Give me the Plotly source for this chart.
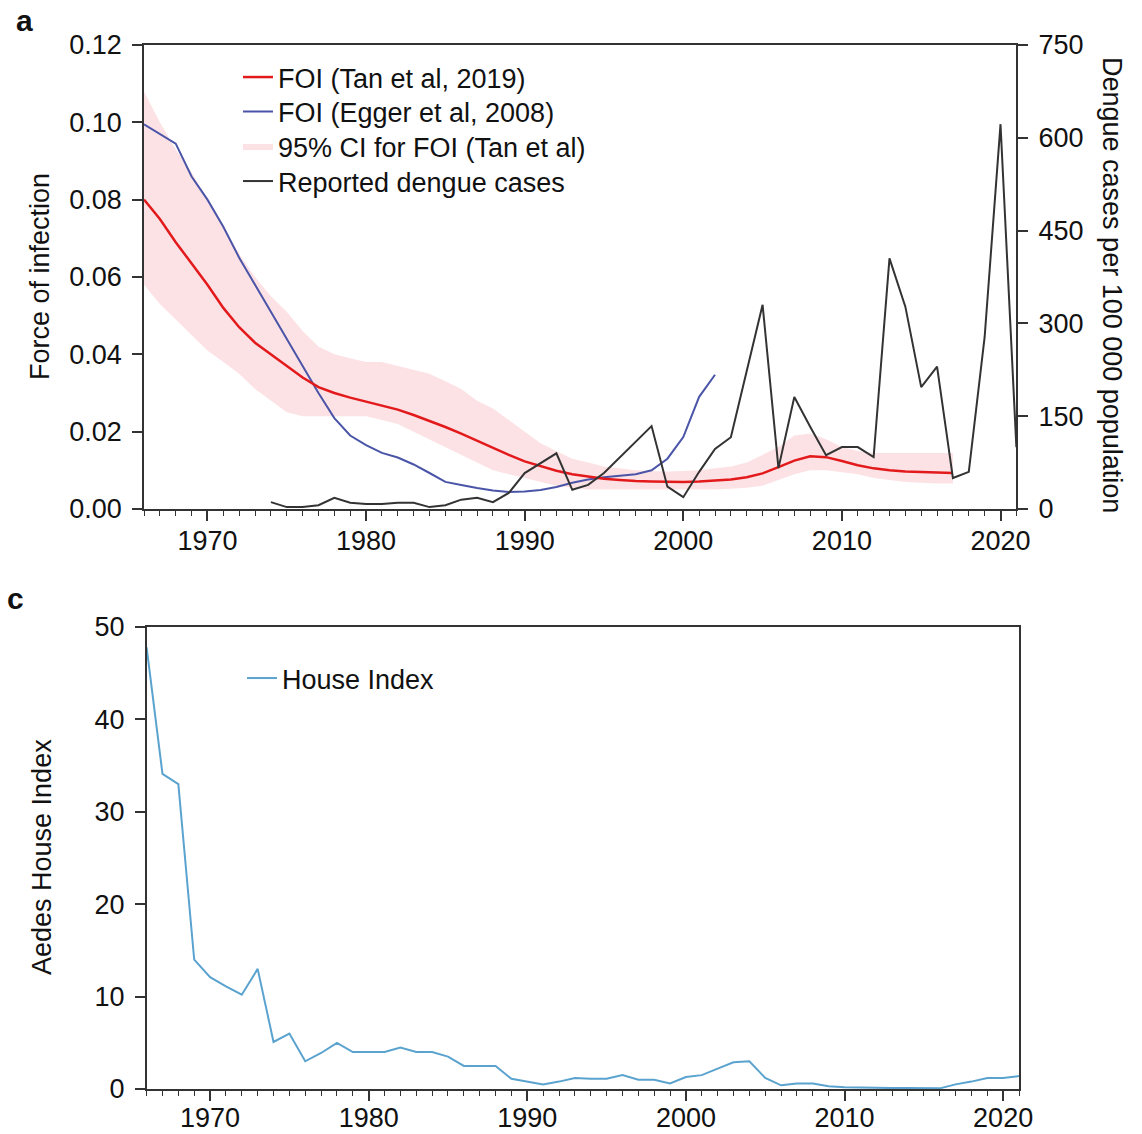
import plotly.graph_objects as go

# ---------------- data ----------------
tan_years = list(range(1966, 2018))
tan_foi = [0.080, 0.075, 0.069, 0.0635, 0.058, 0.052, 0.047, 0.043, 0.040, 0.037,
           0.034, 0.0315, 0.030, 0.0288, 0.0278, 0.0268, 0.0257, 0.0243, 0.0228, 0.0212,
           0.0195, 0.0176, 0.0158, 0.0140, 0.0123, 0.0110, 0.0099, 0.0090, 0.0083, 0.0078,
           0.0075, 0.0072, 0.0071, 0.0070, 0.0070, 0.0071, 0.0073, 0.0076, 0.0082, 0.0092,
           0.0108, 0.0125, 0.0136, 0.0134, 0.0124, 0.0113, 0.0105, 0.0100, 0.0097, 0.0095,
           0.0094, 0.0093]
tan_ci_low = [0.058, 0.053, 0.049, 0.045, 0.041, 0.038, 0.035, 0.031, 0.028, 0.025,
              0.024, 0.024, 0.024, 0.024, 0.024, 0.023, 0.022, 0.020, 0.018, 0.016,
              0.014, 0.012, 0.010, 0.009, 0.008, 0.007, 0.006, 0.0055, 0.005, 0.005,
              0.005, 0.005, 0.005, 0.005, 0.005, 0.005, 0.005, 0.0052, 0.0055, 0.006,
              0.0075, 0.009, 0.010, 0.010, 0.0095, 0.009, 0.008, 0.0075, 0.007, 0.0068,
              0.0066, 0.0066]
tan_ci_high = [0.108, 0.100, 0.093, 0.087, 0.080, 0.073, 0.066, 0.060, 0.055, 0.051,
               0.046, 0.042, 0.040, 0.039, 0.038, 0.038, 0.037, 0.036, 0.035, 0.033,
               0.031, 0.028, 0.026, 0.023, 0.020, 0.017, 0.015, 0.013, 0.012, 0.011,
               0.0105, 0.010, 0.0098, 0.0097, 0.0098, 0.010, 0.0105, 0.011, 0.012, 0.014,
               0.016, 0.019, 0.0195, 0.018, 0.016, 0.015, 0.0145, 0.0145, 0.0145, 0.0145,
               0.0145, 0.0145]

egger_years = list(range(1966, 2003))
egger_foi = [0.0995, 0.097, 0.0945, 0.086, 0.080, 0.073, 0.065, 0.058, 0.051, 0.044,
             0.037, 0.030, 0.0235, 0.019, 0.0165, 0.0145, 0.0133, 0.0115, 0.0093, 0.0070,
             0.0062, 0.0054, 0.0048, 0.0044, 0.0045, 0.0049, 0.0057, 0.0068, 0.0076, 0.0082,
             0.0086, 0.0090, 0.0100, 0.0130, 0.0186, 0.0290, 0.0347]

case_years = list(range(1974, 2022))
cases = [11, 3, 3, 6, 18, 10, 8, 8, 10, 10,
         3, 6, 15, 18, 11, 26, 58, 74, 90, 31,
         39, 58, 83, 109, 134, 36, 19, 60, 97, 116,
         223, 330, 66, 181, 133, 87, 100, 100, 84, 405,
         327, 197, 230, 50, 60, 278, 622, 100]

hi_years = list(range(1966, 2022))
house_index = [47.8, 34.1, 33.0, 14.0, 12.1, 11.1, 10.2, 13.0, 5.1, 6.0,
               3.0, 3.9, 5.0, 4.0, 4.0, 4.0, 4.5, 4.0, 4.0, 3.5,
               2.5, 2.5, 2.5, 1.1, 0.8, 0.5, 0.8, 1.2, 1.1, 1.1,
               1.5, 1.0, 1.0, 0.6, 1.3, 1.5, 2.2, 2.9, 3.0, 1.2,
               0.4, 0.6, 0.6, 0.3, 0.2, 0.15, 0.07, 0.1, 0.1, 0.1,
               0.07, 0.5, 0.8, 1.2, 1.2, 1.4]

foi_ticks = [0.00, 0.02, 0.04, 0.06, 0.08, 0.10, 0.12]
case_ticks = [0, 150, 300, 450, 600, 750]
hi_ticks = [0, 10, 20, 30, 40, 50]
year_ticks = [1970, 1980, 1990, 2000, 2010, 2020]

# ---------------- figure ----------------
FONT = "Liberation Sans, Arial, sans-serif"
FS = 27
AX = "#333333"

fig = go.Figure()

fig.add_trace(go.Scatter(x=tan_years, y=tan_ci_low, mode="lines", line=dict(width=0),
                         showlegend=False, hoverinfo="skip", xaxis="x", yaxis="y"))
fig.add_trace(go.Scatter(x=tan_years, y=tan_ci_high, mode="lines", line=dict(width=0),
                         fill="tonexty", fillcolor="rgba(244,150,160,0.28)",
                         name="95% CI for FOI (Tan et al)", legend="legend5",
                         xaxis="x", yaxis="y"))
fig.add_trace(go.Scatter(x=egger_years, y=egger_foi, mode="lines",
                         line=dict(color="#4b55a8", width=2),
                         name="FOI (Egger et al, 2008)", legend="legend4",
                         xaxis="x", yaxis="y"))
fig.add_trace(go.Scatter(x=tan_years, y=tan_foi, mode="lines",
                         line=dict(color="#e31a1c", width=2.5),
                         name="FOI (Tan et al, 2019)", legend="legend",
                         xaxis="x", yaxis="y"))
fig.add_trace(go.Scatter(x=case_years, y=cases, mode="lines",
                         line=dict(color="#333333", width=2),
                         name="Reported dengue cases", legend="legend3",
                         xaxis="x", yaxis="y2"))
fig.add_trace(go.Scatter(x=hi_years, y=house_index, mode="lines",
                         line=dict(color="#5ba3cf", width=2),
                         name="House Index", legend="legend2",
                         xaxis="x2", yaxis="y3"))

L, R, T, B = 144, 123, 45, 45
W, H = 1142, 1134
PW, PH = W - L - R, H - T - B


def px(x):
    return (x - L) / PW


def py(y):
    return 1 - (y - T) / PH


def axis_x(standoff):
    return dict(range=[1966, 2021], tickvals=year_ticks, ticks="outside", ticklen=10,
                tickwidth=1.5, tickcolor=AX, showline=True, linecolor=AX, linewidth=1.5,
                mirror=True, showgrid=False, zeroline=False, automargin=False,
                tickfont=dict(family=FONT, size=FS, color="#111"),
                ticklabelstandoff=standoff,
                minor=dict(dtick=1, tick0=1966, ticks="outside", ticklen=5,
                           tickwidth=1, tickcolor=AX, showgrid=False))


common_y = dict(ticks="outside", ticklen=10, tickwidth=1.5, tickcolor=AX, showline=True,
                linecolor=AX, linewidth=1.5, showgrid=False, zeroline=False,
                automargin=False, tickfont=dict(family=FONT, size=FS, color="#111"),
                ticklabelstandoff=5)


def leg(x_px, top_px):
    return dict(x=px(x_px), y=py(top_px), xanchor="left", yanchor="top",
                bgcolor="rgba(0,0,0,0)", font=dict(family=FONT, size=FS, color="#111"))


fig.update_layout(
    width=W, height=H,
    margin=dict(l=L, r=R, t=T, b=B),
    paper_bgcolor="white", plot_bgcolor="white",
    font=dict(family=FONT, size=FS, color="#111"),
    xaxis=dict(domain=[0, 0.997], anchor="y", **axis_x(-3)),
    yaxis=dict(domain=[0.5556, 1.0], anchor="x", range=[0, 0.12], tickvals=foi_ticks,
               tickformat=".2f", **common_y),
    yaxis2=dict(overlaying="y", side="right", anchor="x", range=[0, 750],
                tickvals=case_ticks, **common_y),
    xaxis2=dict(domain=[0.003, 1.0], anchor="y3", **axis_x(-6)),
    yaxis3=dict(domain=[0, 0.4425], anchor="x2", range=[0, 50], tickvals=hi_ticks,
                mirror=True, **common_y),
    legend=leg(238, 53),
    legend4=leg(238, 87.5),
    legend5=leg(238, 122),
    legend3=leg(238, 157),
    legend2=leg(242, 654),
    showlegend=True,
)

fig.add_annotation(text="Force of infection", xref="paper", yref="paper",
                   x=px(40), y=py(277), xanchor="center", yanchor="middle",
                   textangle=-90, showarrow=False,
                   font=dict(family=FONT, size=FS, color="#111"))
fig.add_annotation(text="Dengue cases per 100 000 population", xref="paper", yref="paper",
                   x=px(1112), y=py(285), xanchor="center", yanchor="middle",
                   textangle=90, showarrow=False,
                   font=dict(family=FONT, size=FS, color="#111"))
fig.add_annotation(text="Aedes House Index", xref="paper", yref="paper",
                   x=px(42), y=py(857), xanchor="center", yanchor="middle",
                   textangle=-90, showarrow=False,
                   font=dict(family=FONT, size=FS, color="#111"))
fig.add_annotation(text="<b>a</b>", xref="paper", yref="paper",
                   x=px(35), y=py(2), xanchor="right", yanchor="top", showarrow=False,
                   font=dict(family=FONT, size=30, color="#111"))
fig.add_annotation(text="<b>c</b>", xref="paper", yref="paper",
                   x=px(26), y=py(580), xanchor="right", yanchor="top", showarrow=False,
                   font=dict(family=FONT, size=30, color="#111"))

fig.write_html("out.html")
